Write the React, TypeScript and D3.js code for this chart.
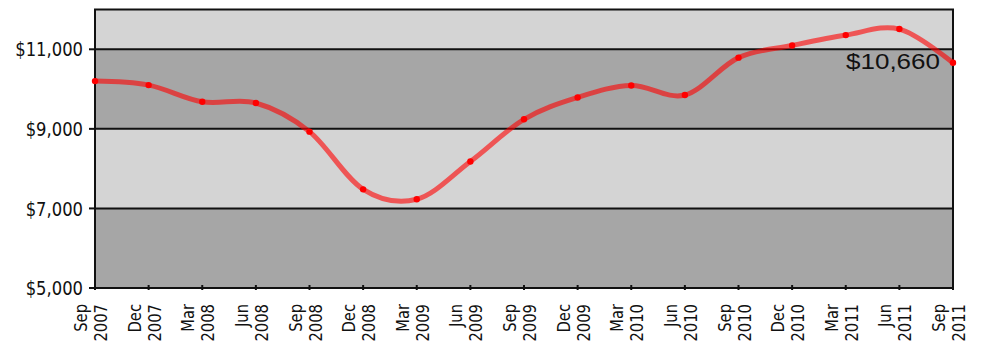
import React from "react";
import * as d3 from "d3";

const months = ["Sep", "Dec", "Mar", "Jun", "Sep", "Dec", "Mar", "Jun", "Sep", "Dec", "Mar", "Jun", "Sep", "Dec", "Mar", "Jun", "Sep"];
const years = ["2007", "2007", "2008", "2008", "2008", "2008", "2009", "2009", "2009", "2009", "2010", "2010", "2010", "2010", "2011", "2011", "2011"];
const values = [10200, 10100, 9680, 9650, 8930, 7480, 7230, 8180, 9240, 9790, 10090, 9850, 10790, 11095, 11357, 11508, 10660];
const yTicks = [5000, 7000, 9000, 11000];
const bands = [
  [5000, 7000, "#a6a6a6"],
  [7000, 9000, "#d4d4d4"],
  [9000, 11000, "#a6a6a6"],
  [11000, 12000, "#d4d4d4"],
] as [number, number, string][];
const endLabel = "$10,660";

export default function App() {
  const W = 982, H = 342;
  const left = 95, right = 953, top = 9.5, bottom = 288;
  const x = d3.scalePoint<number>().domain(values.map((_, i) => i)).range([left, right]);
  const y = d3.scaleLinear().domain([5000, 12000]).range([bottom, top]);
  const line = d3.line<number>()
    .x((_, i) => x(i)!)
    .y((d) => y(d))
    .curve(d3.curveCardinal.tension(0));
  const fmt = (v: number) => "$" + d3.format(",")(v);
  const axisFont = "'DejaVu Sans', sans-serif";

  return (
    <svg width={W} height={H} style={{ position: "absolute", left: 0, top: 0, display: "block" }}>
      <rect x={0} y={0} width={W} height={H} fill="#fff" />
      {bands.map(([a, b, c], i) => (
        <rect key={i} x={left} y={y(b)} width={right - left} height={y(a) - y(b)} fill={c} />
      ))}
      {yTicks.map((t) => (
        <g key={t}>
          <line x1={left} x2={right} y1={y(t)} y2={y(t)} stroke="#111" strokeWidth={2} />
          <line x1={left - 6} x2={left} y1={y(t)} y2={y(t)} stroke="#111" strokeWidth={2} />
          <text transform={`translate(83,${y(t)}) scale(0.82,1)`} dy="0.36em" textAnchor="end"
            fontFamily={axisFont} fontSize={20} fill="#111">{fmt(t)}</text>
        </g>
      ))}
      <rect x={left} y={top} width={right - left} height={bottom - top} fill="none" stroke="#111" strokeWidth={2} />
      {values.map((_, i) => (
        <line key={"t" + i} x1={x(i)} x2={x(i)} y1={bottom - 3} y2={bottom + 2} stroke="#111" strokeWidth={2} />
      ))}
      {months.map((m, i) => (
        <g key={"l" + i}>
          <text transform={`translate(${x(i)! - 8},304) rotate(-90) scale(0.82,1)`} textAnchor="end"
            fontFamily={axisFont} fontSize={18} fill="#111">{m}</text>
          <text transform={`translate(${x(i)! + 12},304) rotate(-90) scale(0.82,1)`} textAnchor="end"
            fontFamily={axisFont} fontSize={18} fill="#111">{years[i]}</text>
        </g>
      ))}
      <path d={line(values)!} fill="none" stroke="#ff0000" strokeOpacity={0.6} strokeWidth={5} strokeLinecap="round" />
      {values.map((v, i) => (
        <circle key={"c" + i} cx={x(i)} cy={y(v)} r={3.2} fill="#ff0000" />
      ))}
      <text x={940} y={68.5} textAnchor="end" fontFamily="'Liberation Sans', Arial, sans-serif"
        fontSize={22} textLength={94} lengthAdjust="spacingAndGlyphs" fill="#111">{endLabel}</text>
    </svg>
  );
}
